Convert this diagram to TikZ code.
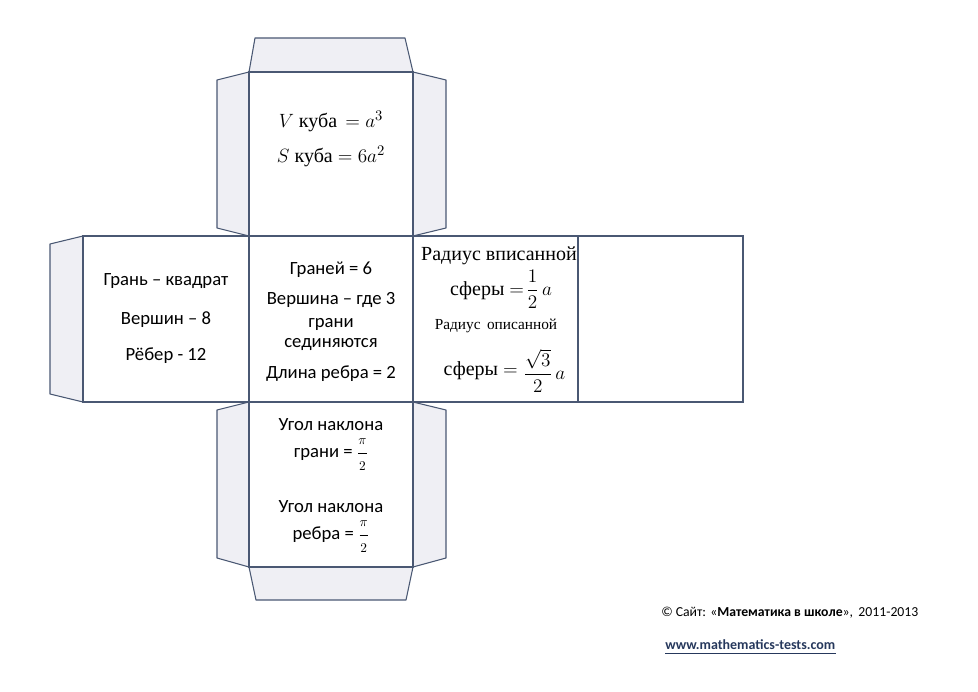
\documentclass[tikz,border=0pt]{standalone}
\usepackage{amsmath}
\usepackage{fontspec}
\setmainfont{Carlito}
\newfontfamily\serifcyr{Liberation Serif}
\definecolor{edgeblue}{RGB}{74,88,115}
\definecolor{tabgray}{RGB}{239,239,244}
\definecolor{urlblue}{RGB}{38,56,92}
\newcommand{\halfpi}{$\dfrac{\scriptstyle\pi}{\scriptstyle 2}$}
\tikzset{
	face/.style={draw=edgeblue,fill=white,line width=0.8pt},
	flap/.style={draw=edgeblue,fill=tabgray,line width=0.8pt,line join=round},
	sans/.style={font=\fontsize{14}{16}\selectfont,inner sep=0pt},
	serif/.style={font=\fontsize{15}{18}\selectfont\serifcyr,inner sep=0pt},
	small/.style={font=\fontsize{11.5}{14}\selectfont\serifcyr,inner sep=0pt}
}
\begin{document}
\begin{tikzpicture}[x=0.75pt,y=-0.75pt]
	\useasboundingbox (0,0) rectangle (978,692);
	% flaps
	\draw[flap] (249,72) -- (255,38) -- (405,38) -- (413,72) -- cycle;
	\draw[flap] (249,72) -- (217,80) -- (217,228) -- (249,236) -- cycle;
	\draw[flap] (413,72) -- (446,80) -- (446,228) -- (413,236) -- cycle;
	\draw[flap] (83,236) -- (50,244) -- (50,394) -- (83,402) -- cycle;
	\draw[flap] (249,402) -- (217,410) -- (217,558) -- (249,567) -- cycle;
	\draw[flap] (413,402) -- (446,410) -- (446,558) -- (413,567) -- cycle;
	\draw[flap] (249,567) -- (256,600) -- (406,600) -- (413,567) -- cycle;
	% faces
	\draw[face] (249,72) rectangle (413,236);
	\draw[face] (83,236) rectangle (743,402);
	\draw[face] (249,402) rectangle (413,567);
	\draw[edgeblue,line width=0.8pt] (249,236) -- (249,402);
	\draw[edgeblue,line width=0.8pt] (413,236) -- (413,402);
	\draw[edgeblue,line width=0.8pt] (578,236) -- (578,402);
	
	% top face
	\node[serif] (vol) at (331,121) {$V$ куба $\,=a^3$};
	\node[serif] (surf) at (331,156) {$S$ куба $=6a^2$};
	% left face
	\node[sans] (gran) at (166,281) {Грань – квадрат};
	\node[sans] (vert) at (166,320) {Вершин – 8};
	\node[sans] (edges) at (166,356) {Рёбер - 12};
	% centre face
	\node[sans] (faces) at (331,270) {Граней = 6};
	\node[sans] (vdef1) at (331,300) {Вершина – где 3};
	\node[sans] (vdef2) at (331,324) {грани};
	\node[sans] (vdef3) at (331,345) {сединяются};
	\node[sans] (len) at (331,374) {Длина ребра = 2};
	% right face
	\node[serif] (rin1) at (499,256) {Радиус вписанной};
	\node[serif] (rin2) at (501,289) {сферы $=\!\dfrac{1}{2}\,a$};
	\node[small] (rout1) at (496,326) {Радиус\, описанной};
	\node[serif,anchor=east] (rout2) at (518,371) {сферы $=$};
	\node[serif,anchor=west] (rout3) at (rout2.east) {$\;\dfrac{\sqrt{3}}{2}\,a$};
	% bottom face
	\node[sans] (ang1) at (331,425) {Угол наклона};
	\node[sans] (ang2) at (331,455) {грани = \halfpi};
	\node[sans] (ang3) at (331,507) {Угол наклона};
	\node[sans] (ang4) at (331,537) {ребра = \halfpi};
	
	% site
	\node[font=\fontsize{10.3}{12}\selectfont,anchor=west,inner sep=0pt] (site) at (661,613) {© Сайт: «\textbf{Математика в школе}»,\, 2011-2013};
	\node[font=\fontsize{10.5}{12}\selectfont\bfseries,text=urlblue,anchor=west,inner sep=0pt] (url) at (665,645) {www.mathematics-tests.com};
	\draw[urlblue,line width=0.6pt] ([yshift=-2pt]url.south west) -- ([yshift=-2pt]url.south east);
\end{tikzpicture}
\end{document}
